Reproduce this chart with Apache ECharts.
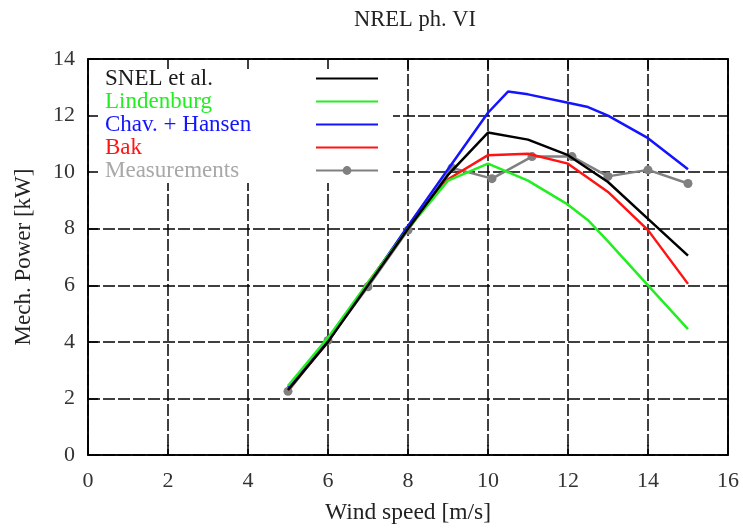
<!DOCTYPE html>
<html><head><meta charset="utf-8">
<script src="https://cdn.jsdelivr.net/npm/echarts@6/dist/echarts.min.js"></script>
<style>html,body{margin:0;padding:0;background:#fff}#c{width:743px;height:530px}</style>
</head><body><div id="c"></div>
<script>
const seriesNames = ["SNEL et al.", "Lindenburg", "Chav. + Hansen", "Bak", "Measurements"];
const snelX = [5, 6, 7, 8, 9, 10, 11, 12, 13, 14, 15];
const snelY = [2.3, 4.0, 6.0, 8.0, 9.9, 11.4, 11.15, 10.6, 9.65, 8.35, 7.05];
const lindX = [5, 6, 7, 8, 9, 10, 11, 12, 12.5, 13, 14, 15];
const lindY = [2.45, 4.15, 6.1, 8.0, 9.7, 10.3, 9.7, 8.85, 8.3, 7.55, 6.0, 4.45];
const chavX = [5, 6, 7, 8, 9, 10, 10.5, 11, 12, 12.5, 13, 14, 15];
const chavY = [2.4, 4.1, 6.05, 8.1, 10.1, 12.1, 12.85, 12.75, 12.45, 12.3, 12.0, 11.2, 10.1];
const bakX = [5, 6, 7, 8, 9, 10, 11, 12, 13, 14, 15];
const bakY = [2.3, 4.0, 6.1, 8.0, 9.75, 10.6, 10.65, 10.3, 9.3, 7.95, 6.05];
const measX = [5, 6, 7, 8, 9.1, 10.1, 11.1, 12.1, 13, 14, 15];
const measY = [2.25, 4.05, 5.95, 7.95, 10.15, 9.77, 10.55, 10.55, 9.85, 10.08, 9.6];
const xTicks = [0, 2, 4, 6, 8, 10, 12, 14, 16];
const yTicks = [0, 2, 4, 6, 8, 10, 12, 14];

const colors = ["#000000", "#22ee22", "#1414ff", "#ff1414", "#808080"];
const textColors = ["#1a1a1a", "#22ee22", "#1414ff", "#ff1414", "#a8a8a8"];
const xs = [snelX, lindX, chavX, bakX, measX];
const ys = [snelY, lindY, chavY, bakY, measY];
const font = "Liberation Serif";
const gridLine = {show: true, lineStyle: {color: "#000", width: 1.5, type: [12, 3]}};
const tickStyle = {show: true, inside: true, length: 10, lineStyle: {color: "#000", width: 1.5}};
const borderLine = {show: true, onZero: false, lineStyle: {color: "#000", width: 1.5}};

const series = seriesNames.map((n, i) => ({
  name: n, type: "line",
  data: xs[i].map((x, k) => [x, ys[i][k]]),
  lineStyle: {color: colors[i], width: 2.5},
  itemStyle: {color: colors[i]},
  symbol: i === 4 ? "circle" : "none",
  symbolSize: 9,
  showSymbol: i === 4,
  z: 10 - i
}));

const chart = echarts.init(document.getElementById("c"), null, {renderer: "canvas"});
chart.setOption({
  animation: false,
  backgroundColor: "#fff",
  title: {text: "NREL ph. VI", left: 410, top: 4, textAlign: "center",
    textStyle: {fontFamily: font, fontSize: 22.5, fontWeight: "normal", color: "#222"}},
  grid: {left: 88, right: 15, top: 59, bottom: 73, show: true, borderColor: "#000", borderWidth: 1.5},
  legend: {
    left: 89.5, top: 60, z: 2, orient: "vertical", align: "right",
    backgroundColor: "#fff",
    padding: [7, 14, 1, 15.5],
    itemWidth: 62, itemHeight: 11, itemGap: 0,
    data: seriesNames.map((n, i) => ({
      name: n,
      textStyle: {color: textColors[i]},
      itemStyle: i === 4 ? undefined : {color: "rgba(0,0,0,0)", borderWidth: 0, opacity: 0}
    })),
    formatter: "{a|{name}}",
    textStyle: {fontFamily: font, fontSize: 23,
      rich: {a: {fontFamily: font, fontSize: 23, width: 206, align: "left", lineHeight: 23.5}}},
    selectedMode: false
  },
  xAxis: [{
    type: "value", min: 0, max: 16, interval: 2, z: 10,
    name: "Wind speed [m/s]", nameLocation: "middle", nameGap: 46,
    nameTextStyle: {fontFamily: font, fontSize: 23.5, color: "#222"},
    axisLine: borderLine,
    axisTick: tickStyle,
    axisLabel: {fontFamily: font, fontSize: 22, color: "#333", margin: 15,
      formatter: v => xTicks.includes(v) ? String(v) : ""},
    splitLine: {show: false}
  }, {
    type: "value", min: 0, max: 16, interval: 2, position: "top", z: 10,
    axisLine: borderLine, axisTick: tickStyle, axisLabel: {show: false},
    splitLine: {show: false}
  }, {
    type: "value", min: 0, max: 16, interval: 2, position: "bottom", offset: 0, z: 0,
    axisLine: {show: false, onZero: false}, axisTick: {show: false}, axisLabel: {show: false},
    splitLine: gridLine
  }],
  yAxis: [{
    type: "value", min: 0, max: 14, interval: 2, z: 10,
    name: "Mech. Power [kW]", nameLocation: "middle", nameGap: 53,
    nameTextStyle: {fontFamily: font, fontSize: 23, color: "#222"},
    axisLine: borderLine,
    axisTick: tickStyle,
    axisLabel: {fontFamily: font, fontSize: 22, color: "#333", margin: 13,
      formatter: v => yTicks.includes(v) ? String(v) : ""},
    splitLine: {show: false}
  }, {
    type: "value", min: 0, max: 14, interval: 2, position: "right", z: 0,
    axisLine: borderLine,
    axisTick: {show: false}, axisLabel: {show: false},
    splitLine: gridLine
  }],
  series: series
});
</script></body></html>
